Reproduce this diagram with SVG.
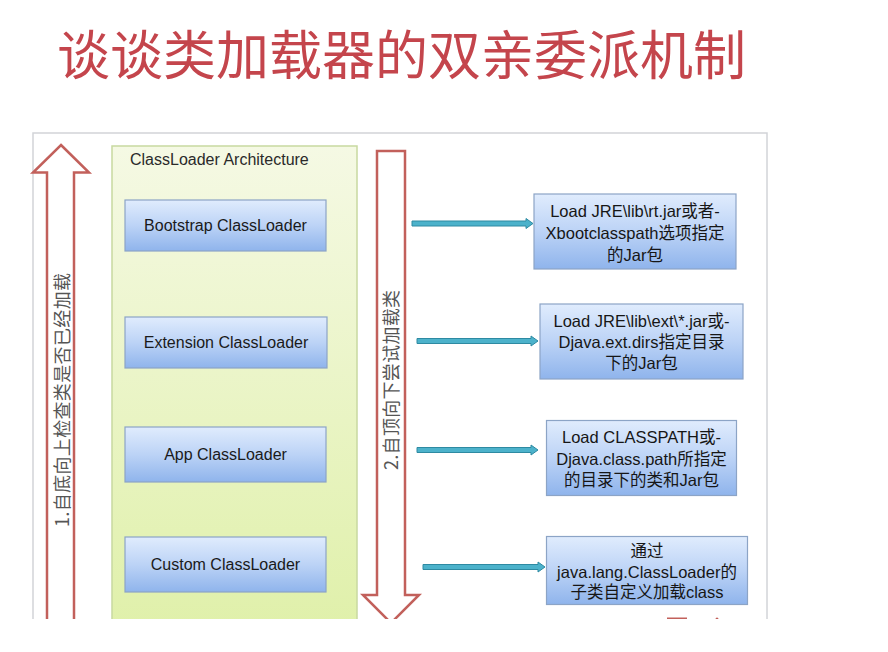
<svg xmlns="http://www.w3.org/2000/svg" width="888" height="652" viewBox="0 0 888 652">
<defs>
<linearGradient id="gPanel" x1="0" y1="0" x2="0" y2="1">
<stop offset="0" stop-color="#f5f9e4"/>
<stop offset="1" stop-color="#dff0a8"/>
</linearGradient>
<linearGradient id="gBlue" x1="0" y1="0" x2="0" y2="1">
<stop offset="0" stop-color="#e0ecfd"/>
<stop offset="0.5" stop-color="#bcd3f6"/>
<stop offset="1" stop-color="#8fb4ec"/>
</linearGradient>
<clipPath id="cut"><rect x="0" y="0" width="888" height="619"/></clipPath>
</defs>
<style>
.frame{fill:#ffffff;stroke:#d2d4d8;stroke-width:1.5}
.panel{fill:url(#gPanel);stroke:#c8d9a0;stroke-width:1.5}
.box{fill:url(#gBlue);stroke:#8ca4c6;stroke-width:1.2}
.red{fill:#ffffff;stroke:#c2605b;stroke-width:2.5;stroke-linejoin:miter}
.teal{fill:#4cb2cb;stroke:#2e8aa2;stroke-width:1}
.lbl{font-family:"Liberation Sans","Noto Sans CJK SC",sans-serif;font-size:16px;fill:#1a1a1a;text-anchor:middle}
.txt{font-family:"Liberation Sans","Noto Sans CJK SC",sans-serif;font-size:16.5px;fill:#161616;text-anchor:middle}
.vt{font-family:"Noto Sans CJK SC",sans-serif;font-size:18px;fill:#555;text-anchor:middle}
.title{font-family:"Noto Sans CJK SC",sans-serif;font-size:53px;fill:#c4454c}
</style>
<rect width="888" height="652" fill="#ffffff"/>
<text class="title" x="57" y="75">谈谈类加载器的双亲委派机制</text>
<g clip-path="url(#cut)">
<rect class="frame" x="33" y="133" width="734" height="520"/>
<g id="panel">
<rect class="panel" x="112" y="146" width="245" height="500"/>
<text x="130" y="165" style="font-family:'Liberation Sans',sans-serif;font-size:16px;fill:#2a2a2a">ClassLoader Architecture</text>
</g>
<g id="up-arrow">
<polygon class="red" points="61,145 89,172.5 74,172.5 74,640 47,640 47,172.5 33,172.5"/>
<text class="vt" transform="translate(69,400) rotate(-90)" textLength="254" lengthAdjust="spacing">1.自底向上检查类是否已经加载</text>
</g>
<g id="down-arrow">
<polygon class="red" points="377,151 405,151 405,595 419,595 391,623 363,595 377,595"/>
<text class="vt" transform="translate(398,380) rotate(-90)" textLength="180" lengthAdjust="spacing">2.自顶向下尝试加载类</text>
</g>
<g id="bootstrap">
<rect class="box" x="125" y="200" width="201" height="51"/>
<text class="lbl" x="225.5" y="231">Bootstrap ClassLoader</text>
</g>
<g id="extension">
<rect class="box" x="125" y="317" width="202" height="51"/>
<text class="lbl" x="226" y="348">Extension ClassLoader</text>
</g>
<g id="app">
<rect class="box" x="125" y="427" width="201" height="55"/>
<text class="lbl" x="225.5" y="460">App ClassLoader</text>
</g>
<g id="custom">
<rect class="box" x="125" y="537" width="201" height="55"/>
<text class="lbl" x="225.5" y="570">Custom ClassLoader</text>
</g>
<g id="desc1">
<rect class="box" x="534" y="194" width="202" height="75"/>
<text class="txt" x="635" y="217">Load JRE\lib\rt.jar或者-</text>
<text class="txt" x="635" y="239">Xbootclasspath选项指定</text>
<text class="txt" x="635" y="261">的Jar包</text>
</g>
<g id="desc2">
<rect class="box" x="540" y="304" width="203" height="75"/>
<text class="txt" x="641.5" y="327">Load JRE\lib\ext\*.jar或-</text>
<text class="txt" x="641.5" y="348">Djava.ext.dirs指定目录</text>
<text class="txt" x="641.5" y="369">下的Jar包</text>
</g>
<g id="desc3">
<rect class="box" x="546.5" y="420.5" width="190" height="75"/>
<text class="txt" x="641.5" y="443">Load CLASSPATH或-</text>
<text class="txt" x="641.5" y="465">Djava.class.path所指定</text>
<text class="txt" x="641.5" y="486">的目录下的类和Jar包</text>
</g>
<g id="desc4">
<rect class="box" x="546.5" y="536.5" width="201" height="68"/>
<text class="txt" x="647" y="557">通过</text>
<text class="txt" x="647" y="578">java.lang.ClassLoader的</text>
<text class="txt" x="647" y="598">子类自定义加载class</text>
</g>
<g id="connectors">
<polygon class="teal" points="412,221 526,221 526,218.5 533,223.5 526,228.5 526,226 412,226"/>
<polygon class="teal" points="417,338.5 531,338.5 531,336 538,341 531,346 531,343.5 417,343.5"/>
<polygon class="teal" points="417,447.5 531,447.5 531,445 538,450 531,455 531,452.5 417,452.5"/>
<polygon class="teal" points="423,564.5 538,564.5 538,562 545,567 538,572 538,569.5 423,569.5"/>
</g>
<line x1="667" y1="618.5" x2="687" y2="618.5" stroke="#c2605b" stroke-width="2"/>
<circle cx="717" cy="619" r="1.5" fill="#c2605b"/>
</g>
</svg>
